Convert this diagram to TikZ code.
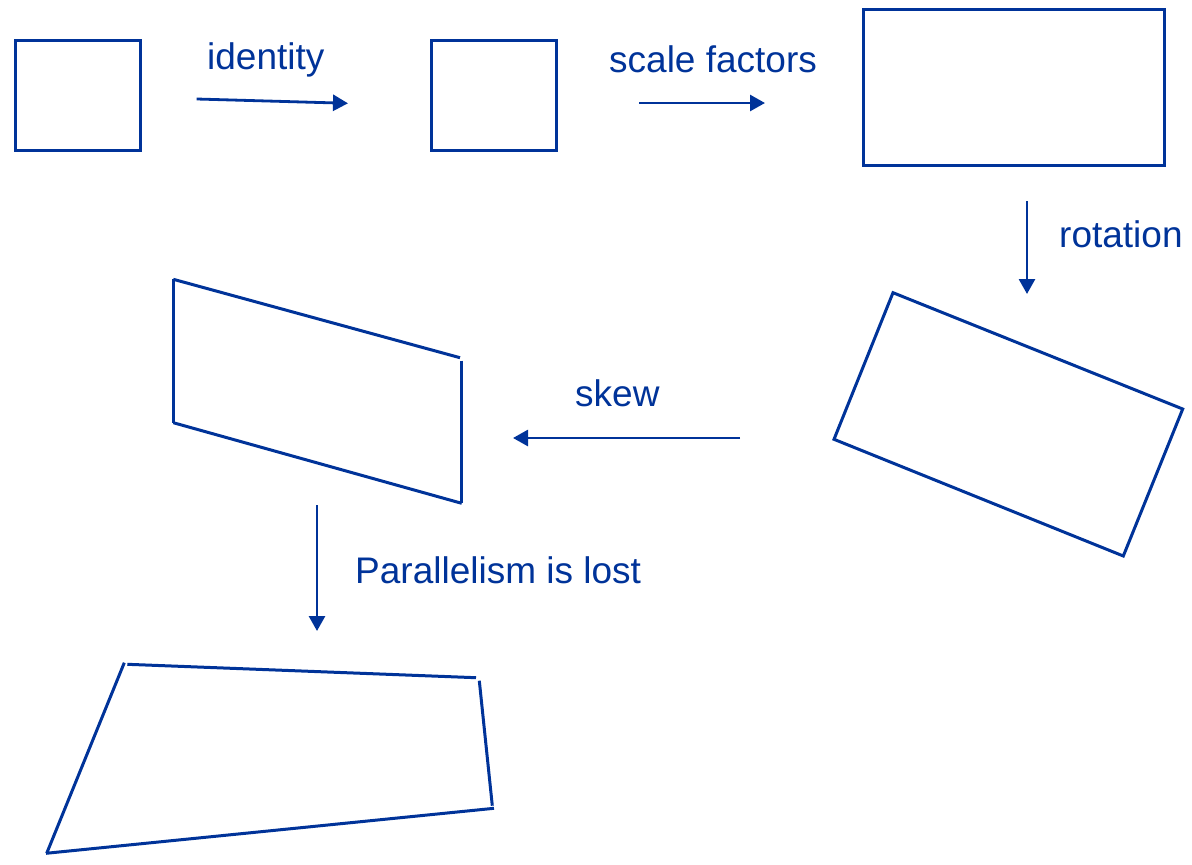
\documentclass[tikz,border=0pt]{standalone}
\usepackage{fontspec}
\setmainfont{Liberation Sans}
\usetikzlibrary{arrows.meta}
\definecolor{ink}{HTML}{003399}
\begin{document}
\begin{tikzpicture}[x=1pt,y=-1pt,
  shape line/.style={draw=ink,line width=3pt},
  conn/.style={draw=ink,line width=2.8pt,-{Triangle[length=15pt,width=16pt]}},
  lbl/.style={text=ink,anchor=base west,inner sep=0pt,font=\fontsize{37}{44}\selectfont}]
\useasboundingbox (0,0) rectangle (1192,865);
% boxes
\draw[shape line] (15,40) rectangle (140,150);
\draw[shape line] (431,40) rectangle (556,150);
\draw[shape line] (863,9) rectangle (1164,165);
% rotated rectangle
\draw[shape line,line join=miter] (893,292.7) -- (1182.7,409) -- (1123.3,556) -- (834,439.3) -- cycle;
% skewed shape (separate strokes)
\draw[shape line] (173.3,279.3) -- (173.3,422.7);
\draw[shape line] (173.3,279.3) -- (460,357.7);
\draw[shape line] (461.7,360.7) -- (461.7,503.3);
\draw[shape line] (173.3,422.7) -- (461.7,503.3);
% perspective shape
\draw[shape line] (124.3,662.7) -- (46.7,853.3);
\draw[shape line] (127.3,664.3) -- (476,677.7);
\draw[shape line] (479.3,680.7) -- (492.3,805.7);
\draw[shape line] (494,808.3) -- (46,853.3);
% arrow endpoints
\coordinate (a1s) at (196.7,99);
\coordinate (a1e) at (348,103.3);
\coordinate (a2s) at (639,103);
\coordinate (a2e) at (765,103);
\coordinate (a3s) at (1027,201);
\coordinate (a3e) at (1027,294);
\coordinate (a4s) at (740,438);
\coordinate (a4e) at (513,438);
\coordinate (a5s) at (317,505);
\coordinate (a5e) at (317,631);
\draw[conn] (a1s) -- (a1e);
\draw[conn] (a2s) -- (a2e);
\draw[conn] (a3s) -- (a3e);
\draw[conn] (a4s) -- (a4e);
\draw[conn] (a5s) -- (a5e);
% labels
\node[lbl] (l1) at (207,69.5) {identity};
\node[lbl] (l2) at (609,72) {scale factors};
\node[lbl] (l3) at (1059,247) {rotation};
\node[lbl] (l4) at (575,406) {skew};
\node[lbl] (l5) at (355,583) {Parallelism is lost};
\end{tikzpicture}
\end{document}
